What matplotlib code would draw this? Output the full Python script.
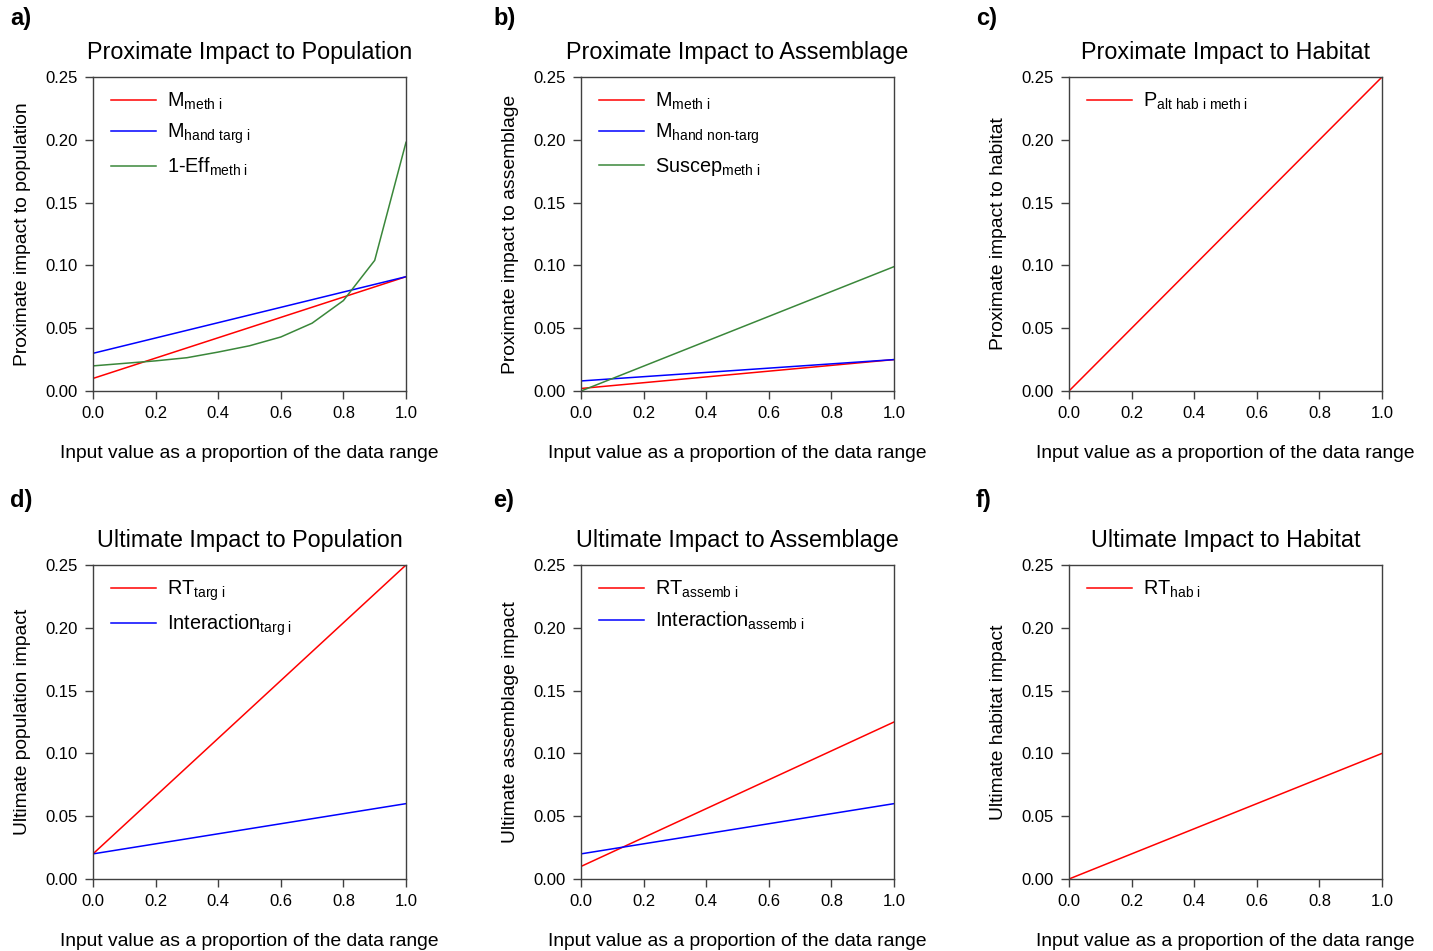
import matplotlib
matplotlib.use("Agg")
import matplotlib.pyplot as plt
import numpy as np

plt.rcParams['font.family'] = ['Liberation Sans', 'DejaVu Sans']
plt.rcParams['mathtext.fontset'] = 'custom'
plt.rcParams['mathtext.rm'] = 'Liberation Sans'
plt.rcParams['mathtext.it'] = 'Liberation Sans'

# ---- data ----
x_lin = [0.0, 1.0]
x_eff = [0.0, 0.1, 0.2, 0.3, 0.4, 0.5, 0.6, 0.7, 0.8, 0.9, 1.0]

a_meth = [0.010, 0.091]
a_hand_targ = [0.030, 0.091]
a_one_minus_eff = [0.020, 0.022, 0.024, 0.0265, 0.031, 0.036, 0.043, 0.054, 0.072, 0.104, 0.198]

b_meth = [0.002, 0.025]
b_hand_nontarg = [0.008, 0.025]
b_suscep = [0.0, 0.099]

c_palt = [0.0, 0.25]

d_rt = [0.02, 0.25]
d_inter = [0.02, 0.06]

e_rt = [0.01, 0.125]
e_inter = [0.02, 0.06]

f_rt = [0.0, 0.10]

titles = ["Proximate Impact to Population", "Proximate Impact to Assemblage",
          "Proximate Impact to Habitat", "Ultimate Impact to Population",
          "Ultimate Impact to Assemblage", "Ultimate Impact to Habitat"]
ylabels = ["Proximate impact to population", "Proximate impact to assemblage",
           "Proximate impact to habitat", "Ultimate population impact",
           "Ultimate assemblage impact", "Ultimate habitat impact"]
letters = ["a)", "b)", "c)", "d)", "e)", "f)"]
xlabel = "Input value as a proportion of the data range"

RED, BLUE, GREEN = '#ff0000', '#0000ff', '#3a873a'

series = [
    [(x_lin, a_meth, RED, r'M$_{\mathrm{meth\ i}}$'),
     (x_lin, a_hand_targ, BLUE, r'M$_{\mathrm{hand\ targ\ i}}$'),
     (x_eff, a_one_minus_eff, GREEN, r'1-Eff$_{\mathrm{meth\ i}}$')],
    [(x_lin, b_meth, RED, r'M$_{\mathrm{meth\ i}}$'),
     (x_lin, b_hand_nontarg, BLUE, r'M$_{\mathrm{hand\ non}\text{-}\mathrm{targ}}$'),
     (x_lin, b_suscep, GREEN, r'Suscep$_{\mathrm{meth\ i}}$')],
    [(x_lin, c_palt, RED, r'P$_{\mathrm{alt\ hab\ i\ meth\ i}}$')],
    [(x_lin, d_rt, RED, r'RT$_{\mathrm{targ\ i}}$'),
     (x_lin, d_inter, BLUE, r'Interaction$_{\mathrm{targ\ i}}$')],
    [(x_lin, e_rt, RED, r'RT$_{\mathrm{assemb\ i}}$'),
     (x_lin, e_inter, BLUE, r'Interaction$_{\mathrm{assemb\ i}}$')],
    [(x_lin, f_rt, RED, r'RT$_{\mathrm{hab\ i}}$')],
]

W, H = 1433, 951
fig = plt.figure(figsize=(W / 100, H / 100), dpi=100)

lefts = [93, 581, 1069]
tops = [77, 565]
letter_x = [10, 493, 976]
letter_y = [18, 501]
aw, ah = 313, 314
SPINE = '#404040'

for i in range(6):
    r, c = divmod(i, 3)
    L, T = lefts[c], tops[r]
    ax = fig.add_axes([L / W, 1 - (T + ah) / H, aw / W, ah / H])
    for xs, ys, col, lab in series[i]:
        ax.plot(xs, ys, color=col, lw=1.1, label=lab)
    ax.set_xlim(0, 1)
    ax.set_ylim(0, 0.25)
    ax.set_xticks(np.arange(0, 1.01, 0.2))
    ax.set_yticks(np.arange(0, 0.251, 0.05))
    ax.set_xticklabels([f"{v:.1f}" for v in np.arange(0, 1.01, 0.2)])
    ax.set_yticklabels([f"{v:.2f}" for v in np.arange(0, 0.251, 0.05)])
    ax.tick_params(direction='out', length=6, width=1, color=SPINE,
                   labelsize=12, pad=5)
    for s in ax.spines.values():
        s.set_color(SPINE)
        s.set_linewidth(1.0)
    ax.set_title(titles[i], fontsize=16.8, pad=13)
    ax.set_xlabel(xlabel, fontsize=13.9, labelpad=17)
    ax.set_ylabel(ylabels[i], fontsize=13.9, labelpad=10)
    ax.legend(loc='upper left', bbox_to_anchor=(0.02, 0.995), frameon=False,
              fontsize=14.3, handlelength=2.25, handletextpad=0.55,
              labelspacing=0.5, borderaxespad=0.2)
    fig.text(letter_x[c] / W, 1 - letter_y[r] / H, letters[i], fontsize=17,
             fontweight='bold', va='center', ha='left')

fig.savefig("out.png", dpi=100)
